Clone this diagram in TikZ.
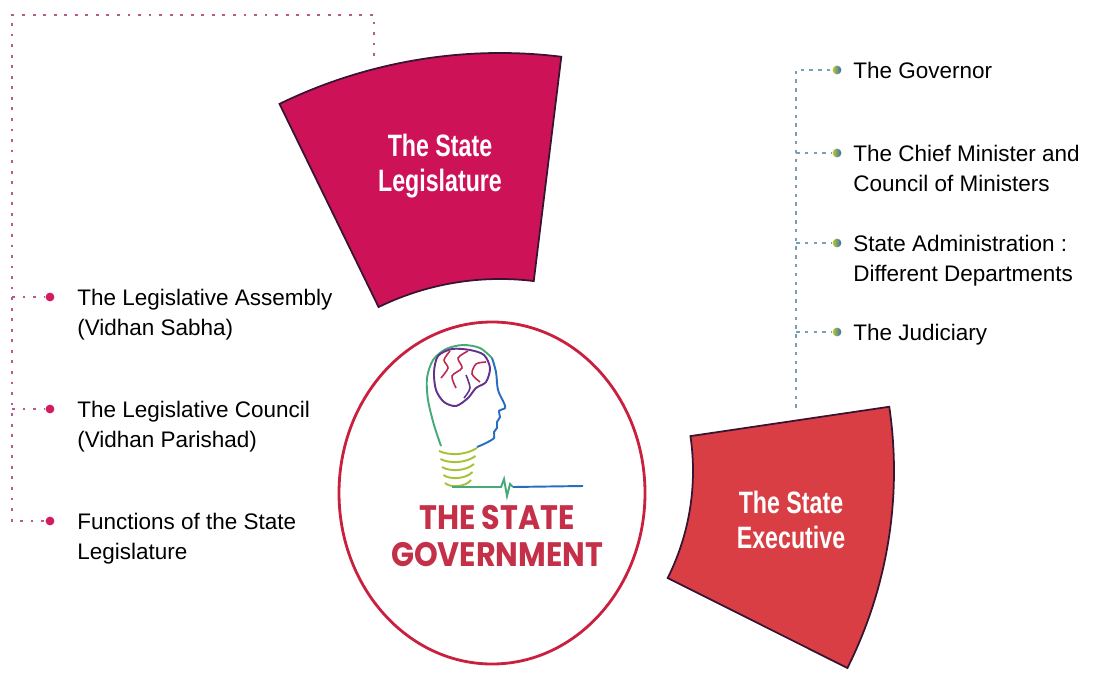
\documentclass[tikz,border=0pt]{standalone}
\usepackage{fontspec}
\setmainfont{Liberation Sans}
\newfontfamily\titlefont{Poppins}
\usepackage{graphicx}
\usepackage{tikz}
\usetikzlibrary{positioning,calc}

\definecolor{legisred}{RGB}{206,18,88}
\definecolor{execred}{RGB}{216,62,68}
\definecolor{rimred}{RGB}{200,32,62}
\definecolor{titlered}{RGB}{196,48,72}
\definecolor{pinkdot}{RGB}{208,28,96}
\definecolor{pinkline}{RGB}{185,90,140}
\definecolor{tealline}{RGB}{120,160,180}
\definecolor{wedgeedge}{RGB}{55,20,50}
\definecolor{bulbgreen}{RGB}{70,170,120}
\definecolor{headblue}{RGB}{40,110,190}
\definecolor{brainred}{RGB}{190,40,80}
\definecolor{brainpurple}{RGB}{100,50,140}
\definecolor{coilyellow}{RGB}{190,200,40}

\newcommand{\squeeze}[2]{\scalebox{#1}[1]{#2}}

\tikzset{
  item/.style={anchor=north west,align=left,inner sep=0pt,font=\fontsize{12.8}{17}\selectfont},
  ldot/.style={circle,fill=pinkdot,inner sep=0pt,minimum size=5pt},
  rdot/.style={circle,inner sep=0pt,minimum size=5pt,left color=coilyellow,right color=headblue},
  ldash/.style={pinkline,line width=1.1pt,dash pattern=on 1.6pt off 4.4pt},
  rdash/.style={tealline,line width=0.8pt,dash pattern=on 2pt off 3pt},
  wedge/.style={draw=wedgeedge,line width=1pt},
  wedgetext/.style={text=white,align=center,font=\bfseries\fontsize{17.6}{20}\selectfont},
}

\begin{document}
\begin{tikzpicture}[x=0.02cm,y=-0.02cm]
  \useasboundingbox (0,0) rectangle (1097,672);

  % the two ring segments
  \coordinate (lc) at (500,556);
  \coordinate (ec) at (454,471);
  \filldraw[wedge,fill=legisred] ($(lc)+(-116:503)$) arc[start angle=-116,end angle=-83,radius=503]
    -- ($(lc)+(-83:277)$) arc[start angle=-83,end angle=-116,radius=277] -- cycle;
  \filldraw[wedge,fill=execred] ($(ec)+(-8.4:440)$) arc[start angle=-8.4,end angle=26.6,radius=440]
    -- ($(ec)+(26.6:239)$) arc[start angle=26.6,end angle=-8.4,radius=239] -- cycle;
  \node[wedgetext] (legis) at (440,166) {\squeeze{0.75}{The State}\\\squeeze{0.75}{Legislature}};
  \node[wedgetext] (exec) at (791,520) {\squeeze{0.75}{The State}\\\squeeze{0.75}{Executive}};

  % centre disc
  \draw[rimred,line width=1.6pt] (492,493) ellipse [x radius=153,y radius=171];
  \node[text=titlered,align=center,font=\titlefont\bfseries\fontsize{19.3}{21}\selectfont] (govt) at (497,536)
    {\squeeze{0.89}{THE STATE}\\\squeeze{0.89}{GOVERNMENT}};

  % bulb with head
  \draw[bulbgreen,line width=1.1pt] plot[smooth] coordinates {(441,446) (434,425) (428,400) (427,378) (433,360) (446,349) (463,345) (480,348) (492,358)};
  \draw[headblue,line width=1.1pt] plot[smooth] coordinates {(492,358) (496,372) (498,390) (504,403) (505,408) (499,411) (500,417) (497,422) (497,428) (494,432) (494,438) (486,443) (477,447)};
  \draw[brainpurple,line width=1.1pt] plot[smooth cycle] coordinates {(434,372) (438,356) (452,349) (470,350) (484,355) (490,368) (486,382) (476,388) (468,398) (456,406) (444,402) (436,390)};
  \draw[brainred,line width=0.9pt] plot[smooth] coordinates {(450,351) (444,360) (448,368) (441,378)};
  \draw[brainred,line width=0.9pt] plot[smooth] coordinates {(468,351) (458,358) (462,368) (452,376) (456,388)};
  \draw[brainred,line width=0.9pt] plot[smooth] coordinates {(486,362) (476,364) (472,374) (480,382)};
  \draw[brainpurple,line width=0.9pt] plot[smooth] coordinates {(466,375) (470,388) (464,398)};
  \foreach \k in {0,...,4}
    \draw[coilyellow!80!bulbgreen,line width=1.1pt] ({439+\k*1.5},{451+\k*8}) .. controls ({450},{456+\k*8}) and ({466},{455+\k*8}) .. ({477-\k*1.5},{448+\k*8});
  \draw[bulbgreen,line width=1.1pt] (452,487) -- (501,487) -- (504,479) -- (507,496) -- (510,484) -- (513,487);
  \draw[headblue,line width=1.1pt] (513,487) -- (583,486);

  % legislature branch
  \coordinate (lstub) at (374,56);
  \coordinate (lcorner) at (374,15);
  \coordinate (lroot) at (12,15);
  \node[ldot] (d1) at (50,297) {};
  \node[ldot] (d2) at (50,409) {};
  \node[ldot] (d3) at (50,521) {};
  \draw[ldash] (lstub) -- (lcorner) -- (lroot) |- (d3);
  \draw[ldash] (lroot |- d1) -- (d1);
  \draw[ldash] (lroot |- d2) -- (d2);
  \node[item] (assembly) at (77,289) {The Legislative Assembly\\(Vidhan Sabha)};
  \node[item] (council) at (77,401) {The Legislative Council\\(Vidhan Parishad)};
  \node[item] (functions) at (77,513) {Functions of the State\\Legislature};

  % executive branch
  \coordinate (rroot) at (796,70);
  \coordinate (rstub) at (796,408);
  \node[rdot] (r1) at (837,70) {};
  \node[rdot] (r2) at (837,153) {};
  \node[rdot] (r3) at (837,243) {};
  \node[rdot] (r4) at (837,332) {};
  \draw[rdash] (rstub) -- (rroot) -- (r1);
  \draw[rdash] (rroot |- r2) -- (r2);
  \draw[rdash] (rroot |- r3) -- (r3);
  \draw[rdash] (rroot |- r4) -- (r4);
  \node[item] (governor) at (853,62) {The Governor};
  \node[item] (ministers) at (853,145) {The Chief Minister and\\Council of Ministers};
  \node[item] (admin) at (853,235) {State Administration :\\Different Departments};
  \node[item] (judiciary) at (853,324) {The Judiciary};
\end{tikzpicture}
\end{document}
